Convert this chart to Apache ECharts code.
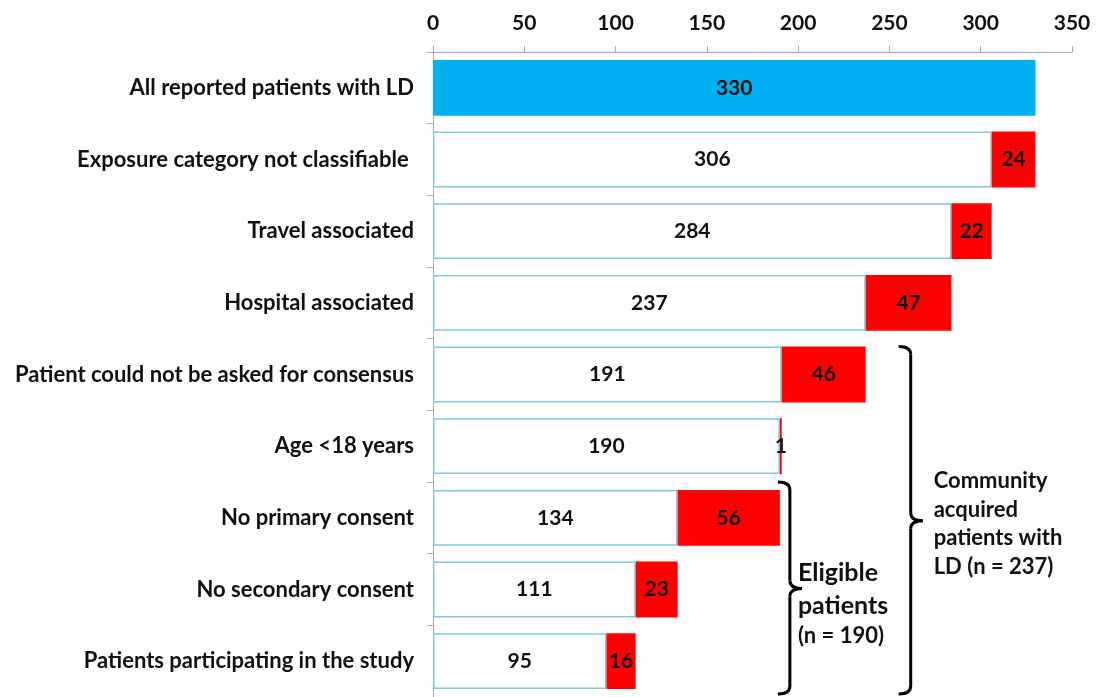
<!DOCTYPE html>
<html><head><meta charset="utf-8">
<script src="https://cdn.jsdelivr.net/npm/echarts@6/dist/echarts.min.js"></script>
<style>html,body{margin:0;padding:0;background:#fff}#c{width:1097px;height:697px}</style>
</head><body><div id="c"></div>
<script>
const categories = ["All reported patients with LD","Exposure category not classifiable ","Travel associated","Hospital associated","Patient could not be asked for consensus","Age <18 years","No primary consent","No secondary consent","Patients participating in the study"];
const remaining = [330, 306, 284, 237, 191, 190, 134, 111, 95];
const excluded = [null, 24, 22, 47, 46, 1, 56, 23, 16];
const xTicks = {min: 0, max: 350, interval: 50};
const FONT = 'Lato';

const chart = echarts.init(document.getElementById('c'));
const lbl = {show: true, position: 'inside', color: '#111', fontWeight: 'bold', fontSize: 21, fontFamily: FONT};
chart.setOption({
  animation: false,
  grid: {left: 433, right: 25, top: 52, bottom: 0},
  xAxis: {type: 'value', position: 'top', min: xTicks.min, max: xTicks.max, interval: xTicks.interval,
    splitLine: {show: false},
    axisLine: {show: true, lineStyle: {color: '#aaa'}},
    axisTick: {show: true, length: 6, lineStyle: {color: '#aaa'}},
    axisLabel: {color: '#111', fontWeight: 'bold', fontSize: 21, fontFamily: FONT, margin: 18}},
  yAxis: {type: 'category', data: categories, inverse: true,
    axisLine: {show: true, lineStyle: {color: '#aaa'}},
    axisTick: {show: true, length: 6, lineStyle: {color: '#aaa'}},
    axisLabel: {color: '#111', fontWeight: 'bold', fontSize: 22, fontFamily: FONT, margin: 19}},
  series: [
    {type: 'bar', stack: 's', barCategoryGap: '22%',
      data: remaining.map((v, i) => i === 0 ? {value: v, itemStyle: {color: '#00b0f0', borderColor: '#00b0f0'}} : v),
      itemStyle: {color: '#fff', borderColor: '#80c9de', borderWidth: 1.5},
      label: lbl},
    {type: 'bar', stack: 's', data: excluded,
      itemStyle: {color: '#ff0000'},
      label: lbl}
  ]
});

function brace(x, top, bot, mid) {
  const w = 12, r = 8, st = {stroke: '#000', lineWidth: 3, fill: null};
  const curve = (x1, y1, cx, cy, x2, y2) => ({type: 'bezierCurve', shape: {x1, y1, cpx1: cx, cpy1: cy, x2, y2}, style: st});
  const line = (x1, y1, x2, y2) => ({type: 'line', shape: {x1, y1, x2, y2}, style: st});
  return [
    curve(x - w, top, x, top, x, top + r),
    line(x, top + r, x, mid - r),
    curve(x, mid - r, x, mid, x + w, mid),
    curve(x + w, mid, x, mid, x, mid + r),
    line(x, mid + r, x, bot - r),
    curve(x, bot - r, x, bot, x - w, bot)
  ];
}
const band = (idx) => chart.convertToPixel({yAxisIndex: 0}, categories[idx]);
const bandH = band(1) - band(0);
const xComm = chart.convertToPixel({xAxisIndex: 0}, remaining[3]) + 45;
const xElig = chart.convertToPixel({xAxisIndex: 0}, remaining[5]) + 10;
const commTop = band(4) - bandH * 0.39, commBot = 694;
const eligTop = band(6) - bandH * 0.5, eligBot = 694;
const commMid = band(6) + 3, eligMid = band(7) - 1;
const tstyle = {fill: '#111', fontWeight: 'bold', fontFamily: FONT};
chart.setOption({graphic: [].concat(
  brace(xComm, commTop, commBot, commMid),
  brace(xElig, eligTop, eligBot, eligMid),
  [
    {type: 'text', left: xComm + 23, top: commMid - 54, style: Object.assign({text: 'Community\nacquired\npatients with\nLD (n = 237)', fontSize: 22, lineHeight: 28.5}, tstyle)},
    {type: 'text', left: xElig + 8, top: eligMid - 32, style: Object.assign({text: 'Eligible\npatients', fontSize: 25, lineHeight: 33}, tstyle)},
    {type: 'text', left: xElig + 8, top: eligMid + 36, style: Object.assign({text: '(n = 190)', fontSize: 22}, tstyle)}
  ])});
</script></body></html>
